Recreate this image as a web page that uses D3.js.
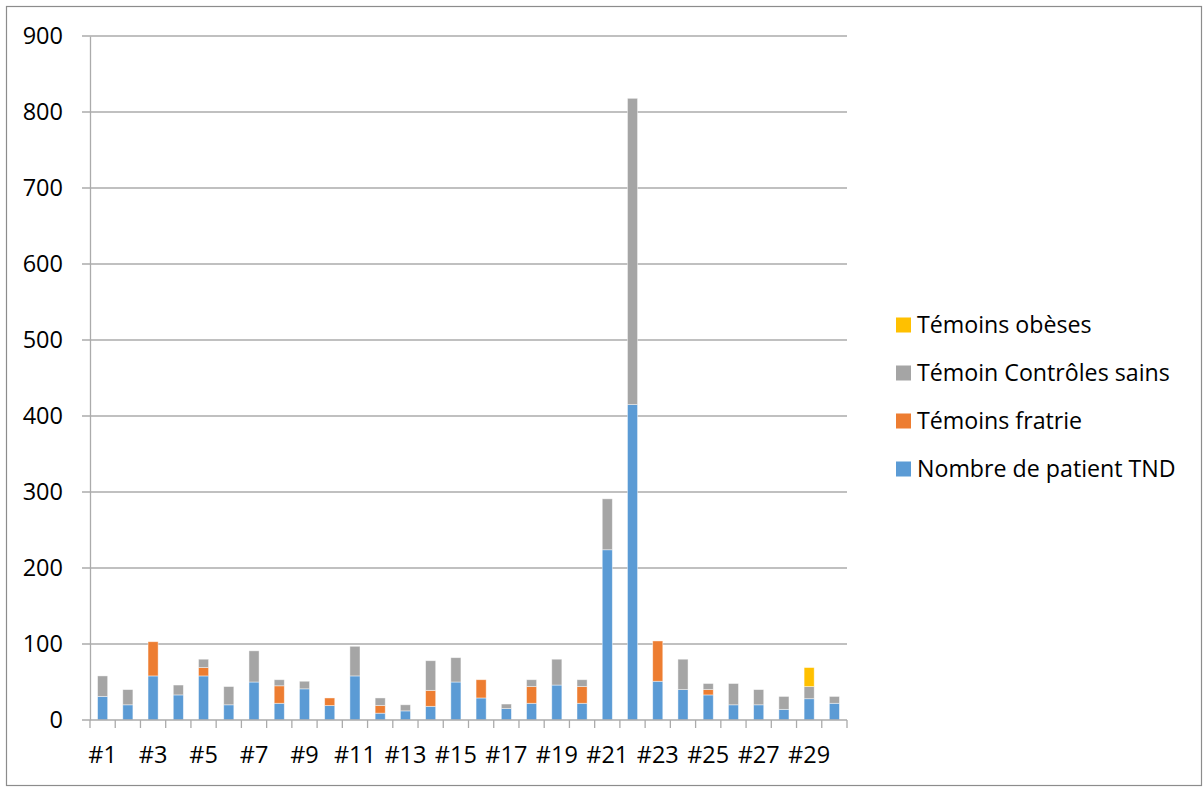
<!DOCTYPE html>
<html>
<head>
<meta charset="utf-8">
<script src="https://cdn.jsdelivr.net/npm/d3@7"></script>
<style>
  html, body { margin: 0; padding: 0; background: #fff; }
  svg { display: block; font-family: "Open Sans", "Noto Sans", sans-serif; }
</style>
</head>
<body>
<svg id="chart" width="1203" height="787"></svg>
<script>
// Categories (sites #1 … #30)
const categories = d3.range(1, 31).map(i => "#" + i);

// Series values, stacked bottom to top
const patientsTND   = [31, 20, 58, 33, 58, 20, 50, 22, 41, 19, 58, 9, 12, 18, 50, 29, 15, 22, 46, 22, 224, 415, 51, 40, 33, 20, 20, 14, 28, 22];
const temoinsFratrie = [0, 0, 45, 0, 11, 0, 0, 23, 0, 10, 0, 10, 0, 21, 0, 24, 0, 22, 0, 22, 0, 0, 53, 0, 7, 0, 0, 0, 0, 0];
const controlesSains = [27, 20, 0, 13, 11, 24, 41, 8, 10, 0, 39, 10, 8, 39, 32, 0, 6, 9, 34, 9, 67, 403, 0, 40, 8, 28, 20, 17, 16, 9];
const temoinsObeses  = [0, 0, 0, 0, 0, 0, 0, 0, 0, 0, 0, 0, 0, 0, 0, 0, 0, 0, 0, 0, 0, 0, 0, 0, 0, 0, 0, 0, 25, 0];

// Axis ticks
const yTicks = [0, 100, 200, 300, 400, 500, 600, 700, 800, 900];
const xTickLabels = categories.filter((c, i) => i % 2 === 0);

const seriesNames = ["Nombre de patient TND", "Témoins fratrie", "Témoin Contrôles sains", "Témoins obèses"];
const seriesColors = ["#5B9BD5", "#ED7D31", "#A5A5A5", "#FFC000"];
const seriesValues = [patientsTND, temoinsFratrie, controlesSains, temoinsObeses];

const rows = categories.map((c, i) => {
  const r = { cat: c };
  seriesNames.forEach((n, k) => { r[n] = seriesValues[k][i]; });
  return r;
});

const svg = d3.select("#chart");
const plot = { left: 90, right: 847, top: 36, bottom: 720 };

// Outer chart frame
svg.append("rect")
  .attr("x", 6.5).attr("y", 6.5)
  .attr("width", 1195).attr("height", 779)
  .attr("fill", "#fff").attr("stroke", "#8c8c8c").attr("stroke-width", 1.2);

const xBand = d3.scaleBand().domain(categories).range([plot.left, plot.right]);
const y = d3.scaleLinear().domain([0, 900]).range([plot.bottom, plot.top]);
const barWidth = xBand.bandwidth() / 2.5;

// Horizontal gridlines
svg.append("g").selectAll("line").data(yTicks.filter(t => t > 0)).join("line")
  .attr("x1", plot.left - 8).attr("x2", plot.right)
  .attr("y1", d => y(d)).attr("y2", d => y(d))
  .attr("stroke", "#ababab").attr("stroke-width", 1.3);

// Stacked bars
const stack = d3.stack().keys(seriesNames)(rows);
svg.append("g").selectAll("g").data(stack).join("g")
  .attr("fill", (d, i) => seriesColors[i])
  .selectAll("rect").data(d => d.filter(p => p[1] - p[0] > 0)).join("rect")
  .attr("x", d => xBand(d.data.cat) + (xBand.bandwidth() - barWidth) / 2)
  .attr("width", barWidth)
  .attr("y", d => y(d[1]))
  .attr("height", d => y(d[0]) - y(d[1]))
  .attr("stroke", "rgba(255,255,255,0.55)").attr("stroke-width", 0.8);

// Y axis line and tick labels
const yAxis = d3.axisLeft(y).tickValues(yTicks).tickSize(0).tickPadding(27);
const gy = svg.append("g").attr("transform", `translate(${plot.left},0)`).call(yAxis);
gy.select(".domain").attr("stroke", "#ababab").attr("stroke-width", 1.3);
gy.selectAll("text").attr("font-size", 23.5).attr("fill", "#000")
  .attr("font-family", "'Open Sans', sans-serif");

// Baseline with boundary tick marks
svg.append("line")
  .attr("x1", plot.left - 8).attr("x2", plot.right)
  .attr("y1", plot.bottom).attr("y2", plot.bottom)
  .attr("stroke", "#ababab").attr("stroke-width", 1.3);
const boundaries = categories.map(c => xBand(c)).concat([plot.right]);
svg.append("g").selectAll("line").data(boundaries).join("line")
  .attr("x1", d => d).attr("x2", d => d)
  .attr("y1", plot.bottom).attr("y2", plot.bottom + 8)
  .attr("stroke", "#ababab").attr("stroke-width", 1.3);

// X labels on every other category
svg.append("g").selectAll("text").data(xTickLabels).join("text")
  .attr("x", d => xBand(d) + xBand.bandwidth() / 2)
  .attr("y", 755)
  .attr("dy", "0.35em")
  .attr("text-anchor", "middle")
  .attr("font-size", 23.5)
  .text(d => d);

// Legend (top entry is the top of the stack)
const legendOrder = [3, 2, 1, 0];
const legend = svg.append("g").selectAll("g").data(legendOrder).join("g")
  .attr("transform", (d, i) => `translate(896, ${325 + i * 48})`);
legend.append("rect")
  .attr("x", 0).attr("y", -7.5).attr("width", 15).attr("height", 15)
  .attr("fill", d => seriesColors[d]);
legend.append("text")
  .attr("x", 21).attr("y", 0).attr("dy", "0.35em")
  .attr("font-size", 23.2)
  .text(d => seriesNames[d]);
</script>
</body>
</html>
